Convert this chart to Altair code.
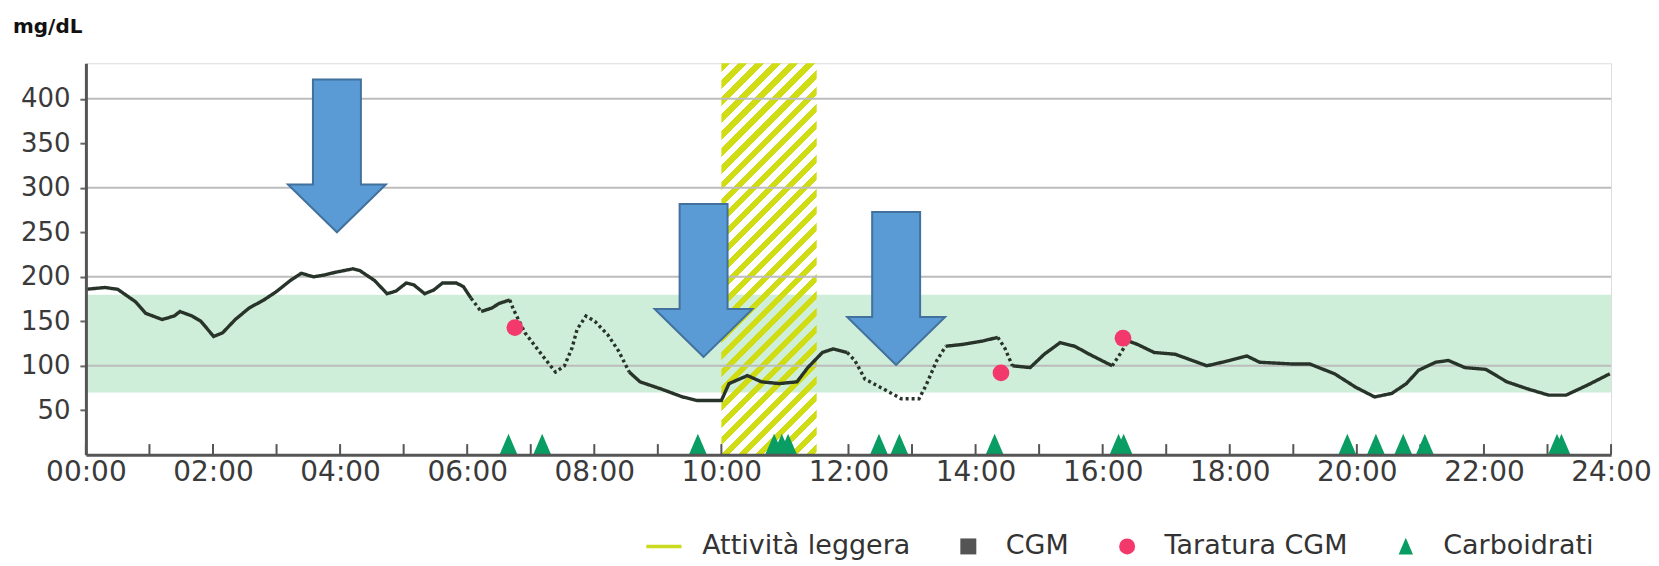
import altair as alt
import pandas as pd

# ---------------- data ----------------
seg_style = ["solid", "dotted", "solid", "dotted", "solid", "dotted",
             "solid", "dotted", "solid", "dotted", "solid"]
seg_time = [
    [0.0, 0.3, 0.5, 0.78, 0.94, 1.2, 1.39, 1.48, 1.67, 1.81, 2.01, 2.15, 2.35, 2.57,
     2.8, 2.99, 3.22, 3.39, 3.58, 3.75, 3.92, 4.2, 4.31, 4.54, 4.74, 4.88, 5.04, 5.16,
     5.33, 5.47, 5.61, 5.83, 5.94, 6.06],
    [6.06, 6.22],
    [6.22, 6.39, 6.5, 6.67],
    [6.67, 6.73, 6.91, 7.19, 7.39, 7.53, 7.65, 7.73, 7.87, 8.01, 8.21, 8.38, 8.55],
    [8.55, 8.72, 9.05, 9.39, 9.62, 10.0, 10.12, 10.41, 10.63, 10.91, 11.19, 11.36,
     11.59, 11.76, 11.98],
    [11.98, 12.1, 12.26, 12.55, 12.83, 13.11, 13.22, 13.39, 13.53],
    [13.53, 13.79, 14.12, 14.35],
    [14.35, 14.46, 14.58],
    [14.58, 14.86, 15.08, 15.33, 15.56, 15.79, 16.15],
    [16.15, 16.29, 16.4],
    [16.4, 16.55, 16.81, 17.14, 17.41, 17.64, 18.0, 18.27, 18.47, 19.0, 19.26, 19.65,
     19.98, 20.28, 20.55, 20.78, 20.97, 21.24, 21.44, 21.7, 22.03, 22.36, 22.69, 23.02,
     23.29, 23.62, 23.98],
]
seg_value = [
    [186, 188, 186, 172, 159, 152, 156, 161, 156, 150, 133, 137, 152, 165,
     174, 183, 196, 204, 200, 202, 205, 209, 207, 196, 181, 184, 193, 191,
     181, 185, 193, 193, 189, 176],
    [176, 161],
    [161, 165, 170, 174],
    [174, 163, 137, 111, 93, 100, 120, 141, 156, 150, 135, 117, 93],
    [93, 82, 74, 65, 61, 61, 80, 89, 82, 80, 82, 98, 115, 119, 115],
    [115, 106, 85, 74, 63, 63, 78, 106, 122],
    [122, 124, 128, 132],
    [132, 120, 100],
    [100, 98, 113, 126, 122, 113, 100],
    [100, 115, 128],
    [128, 124, 115, 113, 106, 100, 106, 111, 104, 102, 102, 91,
     76, 65, 69, 80, 95, 104, 106, 98, 96, 82, 74, 67,
     67, 78, 91],
]

calib_time = [6.75, 14.4, 16.32]
calib_value = [143, 92, 131]

carb_time = [6.65, 7.18, 9.63, 10.83, 10.95, 11.05, 12.48, 12.8, 14.3,
             16.25, 16.33, 19.85, 20.3, 20.73, 21.07, 23.15, 23.22]
carb_level = 11

target_low = [70]
target_high = [180]

activity_start = [10.0]
activity_end = [11.5]

arrow_time = [3.95, 9.72, 12.75]
arrow_value = [250, 110, 101]

y_ticks = [50, 100, 150, 200, 250, 300, 350, 400]
grid_values = [100, 200, 300, 400]
x_label_hours = list(range(0, 25, 2))
tick_hours = list(range(0, 25))
tick_len = 12

legend_items = ["Attività leggera", "CGM", "Taratura CGM", "Carboidrati"]
legend_colors = ["#c9da1f", "#545454", "#f3386c", "#0a9d63"]

# ---------------- styling ----------------
W, H = 1527, 392
YMAX = 440
FONT = "DejaVu Sans"
YEL = "#d0dc14"
CLR = "rgba(255,255,255,0)"

line_rows = []
for i, (st, ts, vs) in enumerate(zip(seg_style, seg_time, seg_value)):
    for t, v in zip(ts, vs):
        line_rows.append({"seg": i, "style": st, "t": t, "v": v})
line_df = pd.DataFrame(line_rows)

xscale = alt.Scale(domain=[0, 24], nice=False, zero=False)
yscale = alt.Scale(domain=[0, YMAX], nice=False)

x_axis = alt.Axis(values=x_label_hours,
                  labelExpr="(datum.value < 10 ? '0' : '') + datum.value + ':00'",
                  ticks=False, grid=False, domain=True, domainColor="#555555",
                  domainWidth=3, labelPadding=4, labelFlush=False, title=None,
                  labelFont=FONT, labelFontSize=28, labelColor="#3a3a3a", zindex=1)
y_axis = alt.Axis(values=y_ticks, grid=False, domain=True, domainColor="#555555",
                  domainWidth=3, tickColor="#666666", tickSize=6, tickWidth=2,
                  labelPadding=10, title=None, labelFont=FONT, labelFontSize=26,
                  labelColor="#3a3a3a", zindex=1)


def X(field):
    return alt.X(field, type="quantitative", scale=xscale, axis=x_axis)


def Y(field):
    return alt.Y(field, type="quantitative", scale=yscale, axis=y_axis)


# hatch gradient (diagonal stripes)
w = (activity_end[0] - activity_start[0]) / 24 * W
h = H
a = (w + h) * w / (w ** 2 + h ** 2)
period = 17.0
T = period / (w + h)
stops = []
t = 0.0
while t < 1.0 - 1e-9:
    t1 = round(min(t + T * 0.5, 1.0), 6)
    t2 = round(min(t + T, 1.0), 6)
    t0 = round(t, 6)
    stops += [{"offset": t0, "color": YEL}, {"offset": t1, "color": YEL},
              {"offset": t1, "color": CLR}, {"offset": t2, "color": CLR}]
    t += T
hatch_fill = {"gradient": "linear", "x1": 0, "y1": 0, "x2": a, "y2": a * h / w,
              "stops": stops}

band = alt.Chart(pd.DataFrame({"lo": target_low, "hi": target_high})).mark_rect(
    color="#cfeed9").encode(y=Y("lo"), y2="hi")

hatch = alt.Chart(pd.DataFrame({"s": activity_start, "e": activity_end})).mark_rect(
    fill=hatch_fill).encode(x=X("s"), x2="e")

grid = alt.Chart(pd.DataFrame({"g": grid_values})).mark_rule(
    color="#bcbcbc", strokeWidth=2).encode(y=Y("g"))

ticks = alt.Chart(pd.DataFrame({"hr": tick_hours})).mark_rule(
    color="#555555", strokeWidth=2).encode(
    x=X("hr"), y=alt.datum(0), y2=alt.datum(tick_len))

line = alt.Chart(line_df).mark_line(color="#28332a", strokeWidth=3.4).encode(
    x=X("t"), y=Y("v"), detail="seg:N",
    strokeDash=alt.StrokeDash("style:N",
                              scale=alt.Scale(domain=["solid", "dotted"],
                                              range=[[1, 0], [3, 3]]),
                              legend=None))

calib = alt.Chart(pd.DataFrame({"t": calib_time, "v": calib_value})).mark_point(
    filled=True, color="#f3386c", size=280, shape="circle", opacity=1).encode(
    x=X("t"), y=Y("v"))

TRI = "M0,-1.1L-0.9,1L0.9,1Z"
carbs = alt.Chart(pd.DataFrame({"t": carb_time})).mark_point(
    filled=True, color="#0a9d63", size=420, shape=TRI, opacity=1).encode(
    x=X("t"), y=alt.datum(carb_level))

ARROW = "M0,0L-0.98,-0.96L-0.48,-0.96L-0.48,-3.06L0.48,-3.06L0.48,-0.96L0.98,-0.96Z"
arrows = alt.Chart(pd.DataFrame({"t": arrow_time, "v": arrow_value})).mark_point(
    filled=True, shape=ARROW, size=10000, fill="#5b9bd5", stroke="#41719c",
    strokeWidth=2, opacity=1).encode(x=X("t"), y=Y("v"))

LINE_SYM = "M-2.3,-0.22H2.1V0.22H-2.3Z"
legend_shapes = [LINE_SYM, "square", "circle", TRI]
leg = alt.Legend(orient="none", legendX=566, legendY=470, direction="horizontal",
                 title=None, labelFont=FONT, labelFontSize=27, labelColor="#333333",
                 labelLimit=0, symbolSize=256, symbolStrokeWidth=0, symbolOpacity=1,
                 labelOffset=24, columnPadding=44, padding=0)
dummy = alt.Chart(pd.DataFrame({"item": legend_items})).transform_filter(
    "datum.item == 'none'").mark_point(filled=True).encode(
    color=alt.Color("item:N", scale=alt.Scale(domain=legend_items, range=legend_colors),
                    legend=leg),
    shape=alt.Shape("item:N", scale=alt.Scale(domain=legend_items, range=legend_shapes),
                    legend=leg))

chart = alt.layer(band, hatch, grid, ticks, line, calib, carbs, arrows, dummy).properties(
    width=W, height=H,
    autosize=alt.AutoSizeParams(type="none"),
    padding={"left": 78, "top": 55, "right": 40, "bottom": 108},
    title=alt.TitleParams("mg/dL", anchor="start", frame="group", dx=-73,
                          fontSize=20, fontWeight="bold", font=FONT, color="#111111",
                          offset=26),
).configure_view(stroke="#777777", strokeWidth=3).configure(background="white")

chart.save("out.html", embed_options={"renderer": "svg", "actions": False})
